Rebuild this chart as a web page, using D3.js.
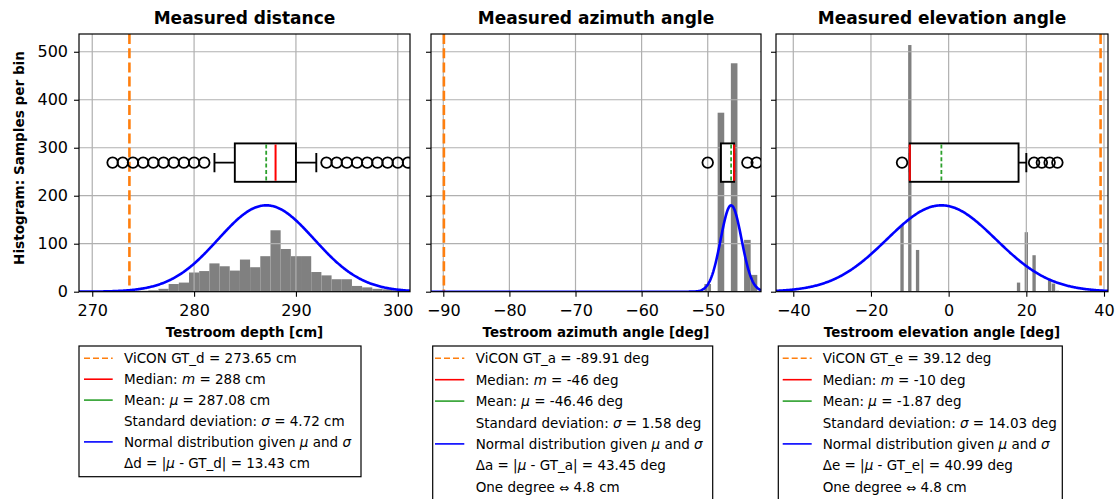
<!DOCTYPE html>
<html><head><meta charset="utf-8">
<script src="https://cdn.jsdelivr.net/npm/d3@7"></script>
<style>
body{margin:0;background:#fff}
svg{display:block}
text{font-family:"DejaVu Sans",sans-serif;fill:#000}
</style>
</head><body>
<svg id="c" width="1120" height="499"></svg>
<script>
// ---------------- DATA ----------------
const panelTitles = ["Measured distance", "Measured azimuth angle", "Measured elevation angle"];
const xAxisLabels = ["Testroom depth [cm]", "Testroom azimuth angle [deg]", "Testroom elevation angle [deg]"];
const yAxisLabel = "Histogram: Samples per bin";
const yTicks = [0, 100, 200, 300, 400, 500];
const xTicksDistance = [270, 280, 290, 300];
const xTicksAzimuth = [-90, -80, -70, -60, -50];
const xTicksElevation = [-40, -20, 0, 20, 40];

// histogram bins (centres) and samples per bin
const distBinCenters = [272,273,274,275,276,277,278,279,280,281,282,283,284,285,286,287,288,289,290,291,292,293,294,295,296,297,298,299,300,301];
const distCounts     = [1,1,1,2,3,6,16,19,40,43,59,53,44,67,51,74,128,89,74,74,41,34,26,26,12,9,6,5,3,2];
const aziBinCenters  = [-50, -48, -46, -44, -43];
const aziCounts      = [16, 373, 476, 108, 35];
const eleBinCenters  = [-12, -10, -8, 18, 20, 22, 24, 26, 27, 28];
const eleCounts      = [139, 514, 87, 19, 124, 76, 1, 24, 17, 2];
const binWidths      = [1.0, 1.0, 0.86];

// ground truth, median, mean, std
const groundTruth = [273.65, -89.91, 39.12];
const medians     = [288, -46, -10];
const means       = [287.08, -46.46, -1.87];
const stdDevs     = [4.72, 1.58, 14.03];
const normalPeaks = [180, 180, 180];

// box plot statistics: [whiskerLow, Q1, Q3, whiskerHigh]
const distBox = [282, 284, 290, 292];
const aziBox  = [-48, -48, -46, -46];
const eleBox  = [-10, -10, 18, 20];
const distFliers = [272,273,274,275,276,277,278,279,280,281,293,294,295,296,297,298,299,300,301];
const aziFliers  = [-50, -44, -42.6];
const eleFliers  = [-12, 22, 24, 26, 28];
const boxCenterY = 269;   // in "samples" units
const boxHalfHeight = 40;

// legend texts (*...* = italic math)
const distLegend = ["ViCON GT_d = 273.65 cm", "Median: *m* = 288 cm", "Mean: *μ* = 287.08 cm",
  "Standard deviation: *σ* = 4.72 cm", "Normal distribution given *μ* and *σ*", "Δd = |*μ* - GT_d| = 13.43 cm"];
const aziLegend = ["ViCON GT_a = -89.91 deg", "Median: *m* = -46 deg", "Mean: *μ* = -46.46 deg",
  "Standard deviation: *σ* = 1.58 deg", "Normal distribution given *μ* and *σ*", "Δa = |*μ* - GT_a| = 43.45 deg", "One degree ⇔ 4.8 cm"];
const eleLegend = ["ViCON GT_e = 39.12 deg", "Median: *m* = -10 deg", "Mean: *μ* = -1.87 deg",
  "Standard deviation: *σ* = 14.03 deg", "Normal distribution given *μ* and *σ*", "Δe = |*μ* - GT_e| = 40.99 deg", "One degree ⇔ 4.8 cm"];
const legendHandles = ["gt", "median", "mean", "none", "normal", "none", "none"];

// ---------------- LAYOUT / STYLE ----------------
const C = {orange:"#ff7f0e", red:"#ff0000", green:"#2ca02c", blue:"#0000ff", bar:"#808080", grid:"#b0b0b0"};
const plotTop = 34, plotBottom = 291.7;
const layout = [
  {left:79, right:410, domain:[268.7, 301.2], ticks:xTicksDistance, centers:distBinCenters, counts:distCounts, box:distBox, fliers:distFliers, legend:distLegend,
   lg:{x:79, w:282, rowStep:20.9, h:130.7, hx0:84, hx1:112.7, tx:124}},
  {left:431, right:761, domain:[-91.86, -41.94], ticks:xTicksAzimuth, centers:aziBinCenters, counts:aziCounts, box:aziBox, fliers:aziFliers, legend:aziLegend,
   lg:{x:432.7, w:280, rowStep:21.4, h:170, hx0:435, hx1:464.3, tx:475.7}},
  {left:776, right:1108, domain:[-44.45, 41.03], ticks:xTicksElevation, centers:eleBinCenters, counts:eleCounts, box:eleBox, fliers:eleFliers, legend:eleLegend,
   lg:{x:778.3, w:284, rowStep:21.4, h:170, hx0:782.7, hx1:811.7, tx:822.7}}
];

const svg = d3.select("#c");
const y = d3.scaleLinear().domain([0, 537]).range([plotBottom, plotTop]);

layout.forEach((p, i) => {
  const x = d3.scaleLinear().domain(p.domain).range([p.left, p.right]);
  const g = svg.append("g");
  const clipId = "clip" + i;
  svg.append("clipPath").attr("id", clipId).append("rect")
    .attr("x", p.left).attr("y", plotTop).attr("width", p.right - p.left).attr("height", plotBottom - plotTop);
  const plot = g.append("g").attr("clip-path", `url(#${clipId})`);

  // histogram bars
  const bw = binWidths[i];
  plot.selectAll("rect.bar").data(d3.zip(p.centers, p.counts)).join("rect").attr("class", "bar")
    .attr("x", d => x(d[0] - bw / 2)).attr("width", d => x(d[0] + bw / 2) - x(d[0] - bw / 2))
    .attr("y", d => y(d[1])).attr("height", d => y(0) - y(d[1])).attr("fill", C.bar);

  // grid
  plot.selectAll("line.gx").data(p.ticks).join("line").attr("class", "gx")
    .attr("x1", d => x(d)).attr("x2", d => x(d)).attr("y1", plotTop).attr("y2", plotBottom)
    .attr("stroke", C.grid).attr("stroke-width", 1.2);
  plot.selectAll("line.gy").data(yTicks).join("line").attr("class", "gy")
    .attr("y1", d => y(d)).attr("y2", d => y(d)).attr("x1", p.left).attr("x2", p.right)
    .attr("stroke", C.grid).attr("stroke-width", 1.2);

  // ground truth
  plot.append("line").attr("x1", x(groundTruth[i])).attr("x2", x(groundTruth[i]))
    .attr("y1", plotTop).attr("y2", plotBottom).attr("stroke", C.orange).attr("stroke-width", 2.6)
    .attr("stroke-dasharray", "10,4.2");

  // normal distribution curve
  const mu = means[i], sd = stdDevs[i], pk = normalPeaks[i];
  const xs = d3.range(0, 401).map(k => p.domain[0] + (p.domain[1] - p.domain[0]) * k / 400);
  const line = d3.line().x(d => x(d)).y(d => y(pk * Math.exp(-0.5 * ((d - mu) / sd) ** 2)));
  plot.append("path").datum(xs).attr("d", line).attr("fill", "none")
    .attr("stroke", C.blue).attr("stroke-width", 2.6);

  // box plot
  const [wl, q1, q3, wh] = p.box;
  const cy = y(boxCenterY), yb0 = y(boxCenterY + boxHalfHeight), yb1 = y(boxCenterY - boxHalfHeight);
  const capH = (yb1 - yb0) / 4;
  const bs = {stroke:"#000", w:1.9};
  plot.append("line").attr("x1", x(wl)).attr("x2", x(q1)).attr("y1", cy).attr("y2", cy).attr("stroke", bs.stroke).attr("stroke-width", bs.w);
  plot.append("line").attr("x1", x(q3)).attr("x2", x(wh)).attr("y1", cy).attr("y2", cy).attr("stroke", bs.stroke).attr("stroke-width", bs.w);
  [wl, wh].forEach(v => plot.append("line").attr("x1", x(v)).attr("x2", x(v)).attr("y1", cy - capH).attr("y2", cy + capH)
    .attr("stroke", bs.stroke).attr("stroke-width", bs.w));
  plot.append("rect").attr("x", x(q1)).attr("y", yb0).attr("width", x(q3) - x(q1)).attr("height", yb1 - yb0)
    .attr("fill", "#fff").attr("stroke", bs.stroke).attr("stroke-width", bs.w);
  plot.append("line").attr("x1", x(means[i])).attr("x2", x(means[i])).attr("y1", yb0 + 1).attr("y2", yb1 - 1)
    .attr("stroke", C.green).attr("stroke-width", 1.8).attr("stroke-dasharray", "4,2.4");
  plot.append("line").attr("x1", x(medians[i])).attr("x2", x(medians[i])).attr("y1", yb0 + 1).attr("y2", yb1 - 1)
    .attr("stroke", C.red).attr("stroke-width", 2);
  plot.selectAll("circle.fl").data(p.fliers).join("circle").attr("class", "fl")
    .attr("cx", d => x(d)).attr("cy", cy).attr("r", 5.3)
    .attr("fill", "none").attr("stroke", "#000").attr("stroke-width", 1.8);

  // axes
  const ax = g.append("g").attr("transform", `translate(0,${plotBottom})`)
    .call(d3.axisBottom(x).tickValues(p.ticks).tickSize(5).tickPadding(8).tickFormat(d3.format("d")));
  ax.select(".domain").remove();
  ax.selectAll(".tick line").attr("stroke", "#000").attr("stroke-width", 1.1);
  ax.selectAll("text").attr("font-size", 16).attr("font-family", "DejaVu Sans").attr("fill", "#000");

  const ay = g.append("g").attr("transform", `translate(${p.left},0)`)
    .call(d3.axisLeft(y).tickValues(yTicks).tickSize(5).tickPadding(6).tickFormat(i === 0 ? d3.format("d") : () => ""));
  ay.select(".domain").remove();
  ay.selectAll(".tick line").attr("stroke", "#000").attr("stroke-width", 1.1);
  ay.selectAll("text").attr("font-size", 16).attr("font-family", "DejaVu Sans").attr("fill", "#000");

  // spines
  g.append("rect").attr("x", p.left).attr("y", plotTop).attr("width", p.right - p.left).attr("height", plotBottom - plotTop)
    .attr("fill", "none").attr("stroke", "#000").attr("stroke-width", 1.2);

  // title & x label
  g.append("text").attr("x", (p.left + p.right) / 2).attr("y", 24).attr("text-anchor", "middle")
    .attr("font-size", 17).attr("font-weight", "bold").text(panelTitles[i]);
  g.append("text").attr("x", (p.left + p.right) / 2).attr("y", 336.5).attr("text-anchor", "middle")
    .attr("font-size", 13.4).attr("font-weight", "bold").text(xAxisLabels[i]);

  // legend
  const L = p.lg;
  const lgG = svg.append("g");
  lgG.append("rect").attr("x", L.x).attr("y", 346).attr("width", L.w).attr("height", L.h)
    .attr("fill", "#fff").attr("stroke", "#000").attr("stroke-width", 1.2);
  p.legend.forEach((txt, r) => {
    const cyR = 358.3 + r * L.rowStep;
    const h = legendHandles[r];
    const col = {gt:C.orange, median:C.red, mean:C.green, normal:C.blue}[h];
    if (col) {
      lgG.append("line").attr("x1", L.hx0).attr("x2", L.hx1).attr("y1", cyR).attr("y2", cyR)
        .attr("stroke", col).attr("stroke-width", 1.6).attr("stroke-dasharray", h === "gt" ? "6,3" : null);
    }
    const t = lgG.append("text").attr("x", L.tx).attr("y", cyR + 5).attr("font-size", 13.5);
    txt.split("*").forEach((seg, k) => {
      if (!seg) return;
      if (seg.includes("⇔")) {
        const parts = seg.split("⇔");
        t.append("tspan").text(parts[0]);
        t.append("tspan").attr("font-size", 12).text("⇔");
        t.append("tspan").text(parts[1]);
      } else {
        const ts = t.append("tspan").text(seg);
        if (k % 2 === 1) ts.attr("font-style", "italic");
      }
    });
  });
});

// shared y label
svg.append("text").attr("transform", `translate(24,${158}) rotate(-90)`)
  .attr("text-anchor", "middle").attr("font-size", 13.6).attr("font-weight", "bold").text(yAxisLabel);
</script>
</body></html>
